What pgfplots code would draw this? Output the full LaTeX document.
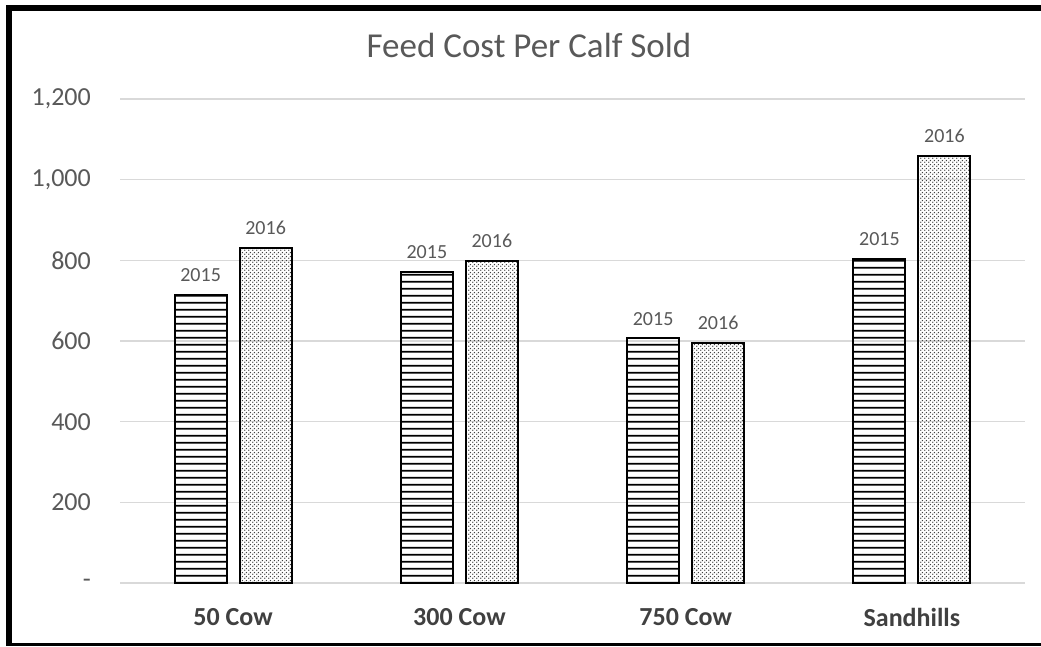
\documentclass[border=0pt]{standalone}
\usepackage{pgfplots}
\pgfplotsset{compat=1.18}
\usetikzlibrary{patterns}
\usepackage{fontspec}
\setmainfont{Carlito}
\definecolor{txtgray}{RGB}{89,89,89}
\definecolor{catgray}{RGB}{64,64,64}
\definecolor{gridgray}{RGB}{217,217,217}
\pgfdeclarepatternformonly{hstripes}{\pgfpoint{0pt}{0pt}}{\pgfpoint{6.7pt}{6.7pt}}{\pgfpoint{6.7pt}{6.7pt}}%
{\pgfsetlinewidth{1.7pt}\pgfpathmoveto{\pgfpoint{-0.5pt}{3.35pt}}\pgfpathlineto{\pgfpoint{7.2pt}{3.35pt}}\pgfusepath{stroke}}
\pgfdeclarepatternformonly{fdots}{\pgfpoint{0pt}{0pt}}{\pgfpoint{4pt}{4pt}}{\pgfpoint{4pt}{4pt}}%
{\pgfpathcircle{\pgfpoint{1pt}{1pt}}{0.9pt}\pgfpathcircle{\pgfpoint{3pt}{3pt}}{0.9pt}\pgfusepath{fill}}
\begin{document}
\begin{tikzpicture}
\path[use as bounding box] (0pt,0pt) rectangle (1041pt,646pt);
\fill[white] (0pt,0pt) rectangle (1041pt,646pt);
\draw[black, line width=6pt] (1041pt,638pt) -- (9pt,638pt) -- (9pt,0pt);
\draw[black, line width=3pt] (9pt,1.5pt) -- (1041pt,1.5pt);
\node[anchor=base, font=\fontsize{35}{40}\selectfont, text=txtgray, inner sep=0pt] at (529pt,588pt) {Feed Cost Per Calf Sold};
\begin{axis}[
  at={(120pt,63pt)}, anchor=south west,
  width=905pt, height=484pt, scale only axis,
  xmin=-0.5, xmax=3.5, ymin=0, ymax=1200,
  ybar=13pt, bar width=52pt,
  axis line style={draw=none},
  major tick length=0pt,
  xtick={0,1,2,3},
  xticklabels={50 Cow,300 Cow,750 Cow,Sandhills},
  xticklabel style={font=\fontsize{26}{30}\selectfont\bfseries, text=catgray, inner sep=0pt, anchor=north, yshift=-25pt},
  ytick={0,200,400,600,800,1000,1200},
  yticklabels={{-\hspace{12pt}},200,400,600,800,{1,000},{1,200}},
  yticklabel style={font=\fontsize{26}{30}\selectfont, text=txtgray, inner sep=0pt, anchor=east, xshift=-29pt},
  /pgf/number format/assume math mode=true,
  ymajorgrids, grid style={draw=gridgray, line width=1.3pt},
  nodes near coords style={font=\fontsize{20}{24}\selectfont, text=txtgray, inner sep=0pt, anchor=south, yshift=12pt},
]
\addplot[draw=black, line width=2pt, pattern=hstripes, pattern color=black, nodes near coords={2015}]
  coordinates {(0,714) (1,771) (2,607) (3,803)};
\addplot[draw=black, line width=2pt, pattern=fdots, pattern color=black!75, nodes near coords={2016}]
  coordinates {(0,831) (1,798) (2,595) (3,1059)};
\end{axis}
\end{tikzpicture}
\end{document}
